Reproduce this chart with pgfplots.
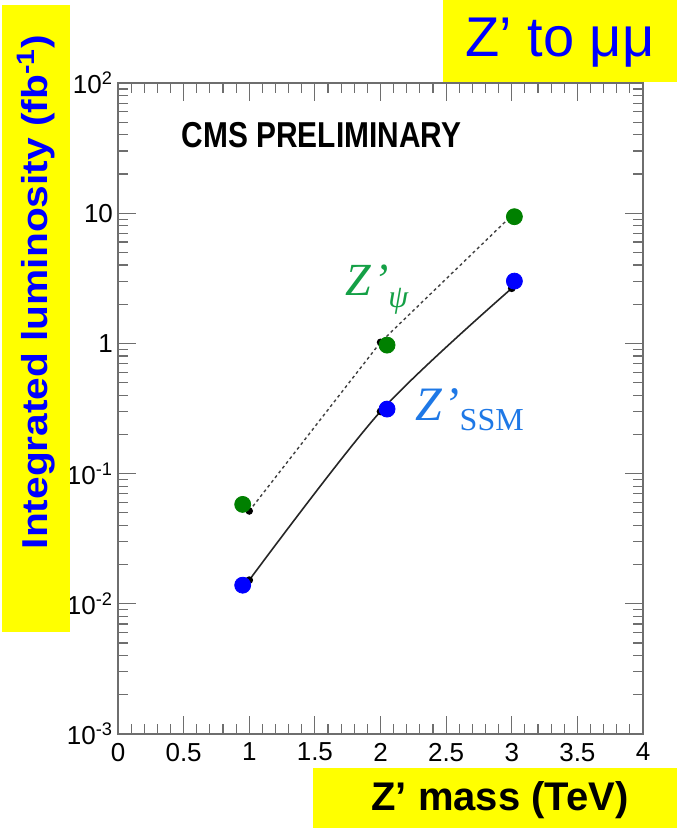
\documentclass[border=0pt]{standalone}
\usepackage{pgfplots}
\pgfplotsset{compat=1.18}
\usepackage{fontspec}
\setmainfont{Liberation Sans}
\newfontfamily\seriffont{Liberation Serif}
\definecolor{yel}{RGB}{255,255,0}
\definecolor{psigreen}{RGB}{20,160,70}
\definecolor{ssmblue}{RGB}{30,120,230}
\definecolor{dotgreen}{RGB}{0,128,0}
\definecolor{dotblue}{RGB}{0,0,255}
\definecolor{axgray}{RGB}{110,110,110}
\begin{document}
\begin{tikzpicture}[x=1pt,y=1pt]
\useasboundingbox (0,0) rectangle (338.5,414);
\begin{axis}[
  at={(59pt,47pt)}, anchor=south west,
  scale only axis, width=262.5pt, height=325.5pt,
  xmin=0, xmax=4, ymode=log, ymin=1e-3, ymax=1e2,
  xtick={0,0.5,...,4},
  xticklabels={0,0.5,1,1.5,2,2.5,3,3.5,4},
  minor x tick num=4,
  ytick={1e-3,1e-2,1e-1,1,10,100},
  yticklabels={10\textsuperscript{-3},10\textsuperscript{-2},10\textsuperscript{-1},1,10,10\textsuperscript{2}},
  major tick length=9pt, minor tick length=5pt,
  tick style={axgray, line width=0.6pt},
  axis line style={axgray, line width=0.8pt},
  tick label style={font=\fontsize{13}{14}\selectfont},
  /pgf/number format/assume math mode=true,
  xticklabel style={yshift=-1pt},
  yticklabel style={xshift=1pt},
  clip=false,
]
\addplot[black!75, line width=0.7pt, dash pattern=on 1.5pt off 1.5pt, mark=*, mark size=1.5pt, mark options={solid,black}]
  coordinates {(1,0.0516) (2,1.02) (3,9.6)};
\addplot[black!85, line width=0.8pt, smooth, mark=*, mark size=1.5pt, mark options={black}]
  coordinates {(1,0.0152) (2,0.30) (3,2.65)};
\addplot[only marks, mark=*, mark size=4pt, color=dotgreen, mark options={fill=dotgreen, draw=dotgreen}]
  coordinates {(0.95,0.058) (2.05,0.97) (3.02,9.4)};
\addplot[only marks, mark=*, mark size=4pt, color=dotblue, mark options={fill=dotblue, draw=dotblue}]
  coordinates {(0.95,0.0139) (2.05,0.313) (3.02,3.01)};
\node[anchor=center, font=\bfseries\fontsize{18}{20}\selectfont] at (axis cs:1.55,39.8) {\scalebox{0.83}[1]{CMS PRELIMINARY}};
\node[anchor=base west, inner sep=0pt, text=psigreen, font=\seriffont\fontsize{23}{26}\selectfont] at (axis cs:1.73,2.35) {\itshape Z\kern1pt\char"2019\raisebox{-6pt}{\fontsize{16}{16}\selectfont\itshape ψ}};
\node[anchor=base west, inner sep=0pt, text=ssmblue, font=\seriffont\fontsize{24}{26}\selectfont] at (axis cs:2.26,0.258) {\itshape Z\kern1pt\char"2019\raisebox{-5pt}{\upshape\fontsize{16}{16}\selectfont SSM}};
\end{axis}
\fill[yel] (221.5,373) rectangle (338.5,414);
\node[text=blue, font=\fontsize{28}{30}\selectfont] at (280,392.5) {Z' to μμ};
\fill[yel] (1,98) rectangle (35,411.5);
\node[rotate=90, text=blue, font=\bfseries\fontsize{18}{20}\selectfont] at (18,268) {\scalebox{1.13}[1]{Integrated luminosity (fb\textsuperscript{-1})}};
\fill[yel] (156.5,0) rectangle (338.5,30);
\node[text=black, font=\bfseries\fontsize{20}{22}\selectfont] at (250,14) {Z' mass (TeV)};
\end{tikzpicture}
\end{document}
